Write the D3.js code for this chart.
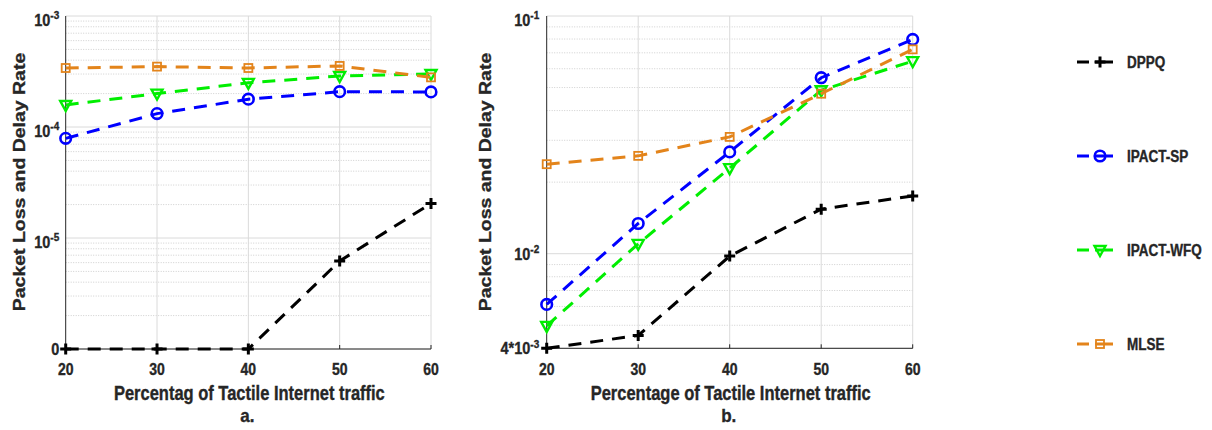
<!DOCTYPE html>
<html>
<head>
<meta charset="utf-8">
<script src="https://cdn.jsdelivr.net/npm/d3@7"></script>
<style>
  body { margin: 0; background: #fff; }
  text { font-family: "Liberation Sans", Arial, sans-serif; font-weight: bold; fill: #262626;
         stroke: #262626; stroke-width: 0.3px; }
</style>
</head>
<body>
<svg id="chart" width="1212" height="430"></svg>
<script>
var traffic = [20, 30, 40, 50, 60];
var seriesNames = ["DPPQ", "IPACT-SP", "IPACT-WFQ", "MLSE"];

// panel a. a 0 sits on the "0" line at the bottom of the log axis
var dppqA = [0, 0, 0, 6.2e-6, 2.05e-5];
var spA = [7.9e-5, 1.32e-4, 1.78e-4, 2.08e-4, 2.07e-4];
var wfqA = [1.58e-4, 2.0e-4, 2.5e-4, 2.88e-4, 3.0e-4];
var mlseA = [3.4e-4, 3.5e-4, 3.4e-4, 3.55e-4, 2.8e-4];

// panel b
var dppqB = [0.0040, 0.00453, 0.00977, 0.0154, 0.0175];
var spB = [0.00612, 0.0134, 0.0268, 0.055, 0.0797];
var wfqB = [0.00497, 0.011, 0.0229, 0.0487, 0.0646];
var mlseB = [0.0238, 0.0258, 0.031, 0.0471, 0.0724];

var yTicksA = [1e-6, 1e-5, 1e-4, 1e-3];
var yTickLabelsA = [["0"], ["10", "-5"], ["10", "-4"], ["10", "-3"]];
var yTicksB = [4e-3, 1e-2, 1e-1];
var yTickLabelsB = [["4*10", "-3"], ["10", "-2"], ["10", "-1"]];

var colors = ["#000000", "#0000ff", "#00ee00", "#e3841b"];
var symbols = ["plus", "circle", "triangle", "square"];
var textColor = "#262626";
var gridColor = "#dadada";
var dash = "13,9";

var svg = d3.select("#chart");

function stretch(sel, x, y, sy) {
    sel.attr("transform", "translate(" + x + "," + y + ") scale(1," + sy + ")");
}

function drawMarker(g, kind, color) {
    if (kind === "plus") {
        g.append("path").attr("d", "M-5.5,0H5.5M0,-5.5V5.5")
            .style("stroke", color).style("stroke-width", 3).style("fill", "none");
    } else if (kind === "circle") {
        g.append("circle").attr("r", 5.3)
            .style("stroke", color).style("stroke-width", 2.6).style("fill", "none");
    } else if (kind === "triangle") {
        g.append("path").attr("d", "M-5.5,-4L5.5,-4L0,6Z")
            .style("stroke", color).style("stroke-width", 2.4).style("fill", "none");
    } else {
        g.append("rect").attr("x", -4).attr("y", -4).attr("width", 8).attr("height", 8)
            .style("stroke", color).style("stroke-width", 1.8).style("fill", "none");
    }
}

function drawPanel(opt) {
    var x = d3.scaleLinear().domain([20, 60]).range([opt.left, opt.right]);
    var y = d3.scaleLog().domain(opt.yDomain).range([opt.bottom, opt.top]);
    var g = svg.append("g");

    // minor grid
    var minor = [];
    var e0 = Math.floor(Math.log10(opt.yDomain[0]));
    var e1 = Math.ceil(Math.log10(opt.yDomain[1]));
    for (var e = e0; e < e1; e++) {
        for (var k = 2; k <= 9; k++) {
            var v = k * Math.pow(10, e);
            if (v > opt.yDomain[0] * 1.001 && v < opt.yDomain[1] * 0.999) minor.push(v);
        }
    }
    g.selectAll("minor").data(minor).enter().append("line")
        .attr("x1", opt.left).attr("x2", opt.right)
        .attr("y1", function(d) { return y(d); })
        .attr("y2", function(d) { return y(d); })
        .style("stroke", "#cfcfcf").style("stroke-width", 1)
        .style("stroke-dasharray", "1,1.5");

    // major grid
    g.selectAll("major").data(opt.yTicks).enter().append("line")
        .attr("x1", opt.left).attr("x2", opt.right)
        .attr("y1", function(d) { return y(d); })
        .attr("y2", function(d) { return y(d); })
        .style("stroke", gridColor).style("stroke-width", 1);

    g.selectAll("vgrid").data(traffic.slice(1)).enter().append("line")
        .attr("x1", function(d) { return x(d); })
        .attr("x2", function(d) { return x(d); })
        .attr("y1", opt.top).attr("y2", opt.bottom)
        .style("stroke", gridColor).style("stroke-width", 1);

    // axes
    g.append("line").attr("x1", opt.left).attr("x2", opt.left)
        .attr("y1", opt.top).attr("y2", opt.bottom)
        .style("stroke", textColor).style("stroke-width", 1);
    g.append("line").attr("x1", opt.left).attr("x2", opt.right)
        .attr("y1", opt.bottom).attr("y2", opt.bottom)
        .style("stroke", textColor).style("stroke-width", 1);
    g.selectAll("xtick").data(traffic).enter().append("line")
        .attr("x1", function(d) { return x(d); })
        .attr("x2", function(d) { return x(d); })
        .attr("y1", opt.bottom).attr("y2", opt.bottom - 4)
        .style("stroke", textColor);

    // series
    var line = d3.line()
        .x(function(d, i) { return x(traffic[i]); })
        .y(function(d) { return y(Math.max(d, opt.yDomain[0])); });

    opt.series.forEach(function(vals, s) {
        g.append("path").datum(vals)
            .attr("d", line)
            .style("fill", "none")
            .style("stroke", colors[s])
            .style("stroke-width", 3)
            .style("stroke-dasharray", dash);
        vals.forEach(function(v, i) {
            var m = g.append("g").attr("transform",
                "translate(" + x(traffic[i]) + "," + y(Math.max(v, opt.yDomain[0])) + ")");
            drawMarker(m, symbols[s], colors[s]);
        });
    });

    // x tick labels
    traffic.forEach(function(t) {
        var tx = g.append("text").attr("text-anchor", "middle")
            .style("font-size", "14px").text(t);
        stretch(tx, x(t), 375, 1.15);
    });

    // y tick labels: "0" and the lower right labels sit centred on the tick,
    // the others hang just below it
    opt.yTicks.forEach(function(t, i) {
        var lab = opt.yLabels[i];
        var shift = 10;
        if (lab[0] === "0") shift = 6;
        if (opt.clampTop && i < opt.yTicks.length - 1) shift = 6;
        var tx = g.append("text").attr("text-anchor", "end").style("font-size", "14.5px");
        tx.append("tspan").text(lab[0]);
        if (lab.length > 1) {
            tx.append("tspan").attr("dy", -6).style("font-size", "10px").text(lab[1]);
        }
        stretch(tx, opt.left - opt.labelGap, y(t) + shift, 1.12);
    });

    // axis titles
    var yl = g.append("text").attr("text-anchor", "middle")
        .style("font-size", "16.5px").text("Packet Loss and Delay Rate");
    yl.attr("transform", "translate(" + opt.yTitleX + ",182) rotate(-90) scale(1.18,1)");

    var xl = g.append("text").attr("text-anchor", "middle")
        .style("font-size", "16.5px").text(opt.xTitle);
    stretch(xl, (opt.left + opt.right) / 2 + 1, 400, 1.18);

    var cap = g.append("text").attr("text-anchor", "middle")
        .style("font-size", "17px").text(opt.caption);
    stretch(cap, (opt.left + opt.right) / 2 - 1, 421.5, 1.1);
}

drawPanel({
    left: 65.7, right: 431, top: 16, bottom: 349,
    yDomain: [1e-6, 1e-3],
    yTicks: yTicksA, yLabels: yTickLabelsA,
    labelGap: 6.5, clampTop: false,
    series: [dppqA, spA, wfqA, mlseA],
    yTitleX: 25,
    xTitle: "Percentag of Tactile Internet traffic",
    caption: "a."
});

drawPanel({
    left: 546.7, right: 912.7, top: 16, bottom: 348.3,
    yDomain: [4e-3, 1e-1],
    yTicks: yTicksB, yLabels: yTickLabelsB,
    labelGap: 7.5, clampTop: true,
    series: [dppqB, spB, wfqB, mlseB],
    yTitleX: 491,
    xTitle: "Percentage of Tactile Internet traffic",
    caption: "b."
});

// legend
var ly = d3.scalePoint().domain(seriesNames).range([62, 344]);
var legend = svg.append("g");
seriesNames.forEach(function(name, s) {
    var cy = ly(name);
    legend.append("line").attr("x1", 1077).attr("x2", 1113)
        .attr("y1", cy).attr("y2", cy)
        .style("stroke", colors[s]).style("stroke-width", 3)
        .style("stroke-dasharray", "12,6,18");
    var m = legend.append("g").attr("transform", "translate(1100," + cy + ")");
    drawMarker(m, symbols[s], colors[s]);
    var t = legend.append("text").style("font-size", "13.5px").text(name);
    stretch(t, 1127, cy + 5.5, 1.2);
});
</script>
</body>
</html>
